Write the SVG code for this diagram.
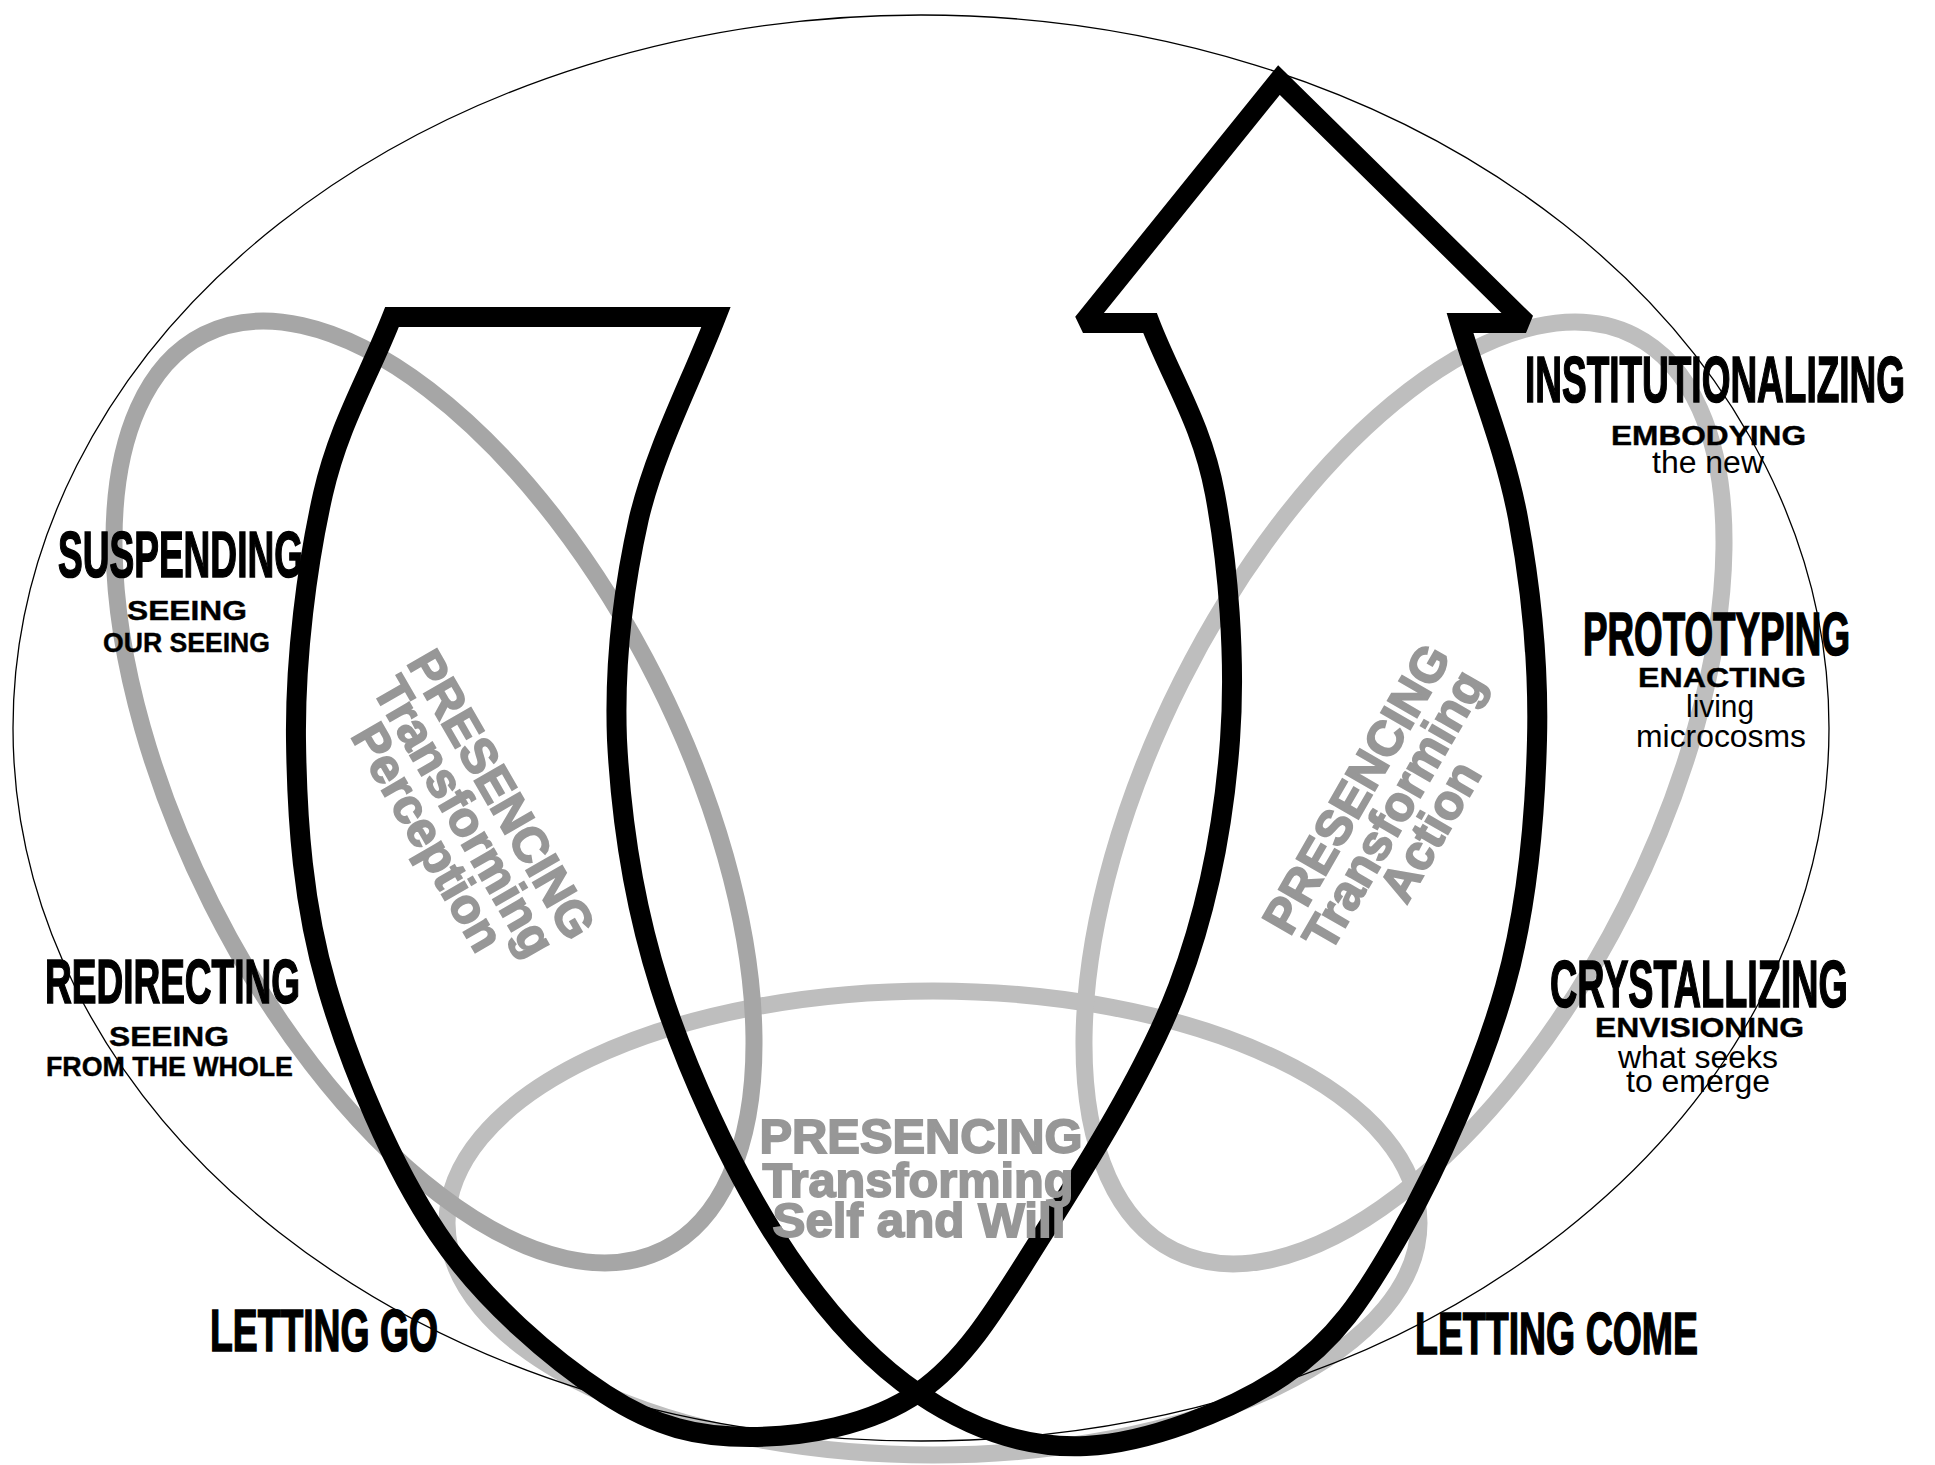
<svg xmlns="http://www.w3.org/2000/svg" width="1935" height="1465" viewBox="0 0 1935 1465">
<style>
.ring{fill:none;stroke-width:17}
.dark{stroke:#a6a6a6}
.light{stroke:#bebebe}
.outline{fill:none;stroke:#000;stroke-width:1.3}
.u{fill:none;stroke:#000;stroke-width:20;stroke-linejoin:miter;stroke-miterlimit:2}
.h{font-family:"Liberation Sans Narrow","Liberation Sans",Arial,sans-serif;font-weight:bold;fill:#000;stroke:#000;stroke-width:1.6}
.s{font-family:"Liberation Sans",Arial,sans-serif;font-weight:bold;fill:#000;stroke:#000;stroke-width:0.4}
.r{font-family:"Liberation Sans",Arial,sans-serif;font-weight:normal;fill:#000}
.p{font-family:"Liberation Sans",Arial,sans-serif;font-weight:bold;fill:#979797;stroke:#979797;stroke-width:1.8;font-size:49px;text-anchor:middle}
</style>
<rect width="1935" height="1465" fill="#fff"/>
<g id="fields">
<ellipse id="field-self" class="ring light" cx="933" cy="1223" rx="486" ry="232"/>
<ellipse id="field-action" class="ring light" cx="0" cy="0" rx="512" ry="249" transform="translate(1404,793) rotate(-63.3)"/>
<ellipse id="field-perception" class="ring dark" cx="0" cy="0" rx="512" ry="249" transform="translate(434,792) rotate(63.3)"/>
</g>
<ellipse id="container" class="outline" cx="921" cy="728" rx="908" ry="713"/>
<g id="connectors">
<path id="u-arrow" class="u" d="M392,317 C369,376 339,424 323,494 C307,565 295,658 296,740 C297,822 303,905 327,987 C351,1069 392,1166 438,1234 C484,1302 553,1360 605,1394 C657,1428 698,1437 750,1437 C802,1437 870,1426 919,1392 C968,1358 1000,1302 1043,1234 C1086,1166 1147,1069 1178,987 C1209,905 1224,822 1230,740 C1236,658 1228,564 1215,494 C1202,424 1172,380 1150,323 L1083,323 L1279,80 L1526,323 L1460,323 C1479,388 1505,449 1518,518 C1531,588 1539,662 1537,740 C1535,818 1528,905 1505,987 C1482,1069 1437,1169 1400,1234 C1363,1299 1335,1341 1283,1376 C1231,1411 1147,1443 1086,1446 C1025,1449 971,1429 919,1394 C867,1359 817,1302 774,1234 C731,1166 686,1069 660,987 C634,905 621,818 617,740 C614,662 623,589 639,518 C656,448 690,384 716,317 Z"/>
</g>
<g id="presencing-perception" transform="translate(487,803) rotate(60)">
<text class="p" x="0" y="0">PRESENCING</text>
<text class="p" x="0" y="43">Transforming</text>
<text class="p" x="0" y="85">Perception</text>
</g>
<g id="presencing-action" transform="translate(1371,797) rotate(-60)">
<text class="p" x="0" y="0">PRESENCING</text>
<text class="p" x="0" y="43">Transforming</text>
<text class="p" x="0" y="85">Action</text>
</g>
<g id="presencing-self">
<text class="p" x="921" y="1153" textLength="323" lengthAdjust="spacingAndGlyphs">PRESENCING</text>
<text class="p" x="918" y="1197" textLength="311" lengthAdjust="spacingAndGlyphs">Transforming</text>
<text class="p" x="919" y="1237" textLength="293" lengthAdjust="spacingAndGlyphs">Self and Will</text>
</g>
<g id="suspending">
<text class="h" x="58" y="577" font-size="64" textLength="245" lengthAdjust="spacingAndGlyphs">SUSPENDING</text>
<text class="s" x="127" y="620" font-size="28" textLength="120" lengthAdjust="spacingAndGlyphs">SEEING</text>
<text class="s" x="103" y="652" font-size="27" textLength="167" lengthAdjust="spacingAndGlyphs">OUR SEEING</text>
</g>
<g id="redirecting">
<text class="h" x="45" y="1003" font-size="63" textLength="255" lengthAdjust="spacingAndGlyphs">REDIRECTING</text>
<text class="s" x="109" y="1046" font-size="28" textLength="120" lengthAdjust="spacingAndGlyphs">SEEING</text>
<text class="s" x="46" y="1076" font-size="27" textLength="247" lengthAdjust="spacingAndGlyphs">FROM THE WHOLE</text>
</g>
<g id="letting-go">
<text class="h" x="210" y="1351" font-size="60" textLength="228" lengthAdjust="spacingAndGlyphs">LETTING GO</text>
</g>
<g id="letting-come">
<text class="h" x="1415" y="1354" font-size="60" textLength="283" lengthAdjust="spacingAndGlyphs">LETTING COME</text>
</g>
<g id="institutionalizing">
<text class="h" x="1525" y="402" font-size="65" textLength="380" lengthAdjust="spacingAndGlyphs">INSTITUTIONALIZING</text>
<text class="s" x="1611" y="445" font-size="28" textLength="195" lengthAdjust="spacingAndGlyphs">EMBODYING</text>
<text class="r" x="1652" y="473" font-size="31" textLength="112" lengthAdjust="spacingAndGlyphs">the new</text>
</g>
<g id="prototyping">
<text class="h" x="1583" y="655" font-size="62" textLength="267" lengthAdjust="spacingAndGlyphs">PROTOTYPING</text>
<text class="s" x="1638" y="687" font-size="28" textLength="168" lengthAdjust="spacingAndGlyphs">ENACTING</text>
<text class="r" x="1686" y="717" font-size="31" textLength="68" lengthAdjust="spacingAndGlyphs">living</text>
<text class="r" x="1636" y="747" font-size="31" textLength="170" lengthAdjust="spacingAndGlyphs">microcosms</text>
</g>
<g id="crystallizing">
<text class="h" x="1550" y="1007" font-size="66" textLength="298" lengthAdjust="spacingAndGlyphs">CRYSTALLIZING</text>
<text class="s" x="1595" y="1037" font-size="28" textLength="209" lengthAdjust="spacingAndGlyphs">ENVISIONING</text>
<text class="r" x="1618" y="1068" font-size="31" textLength="160" lengthAdjust="spacingAndGlyphs">what seeks</text>
<text class="r" x="1626" y="1092" font-size="31" textLength="144" lengthAdjust="spacingAndGlyphs">to emerge</text>
</g>
</svg>
